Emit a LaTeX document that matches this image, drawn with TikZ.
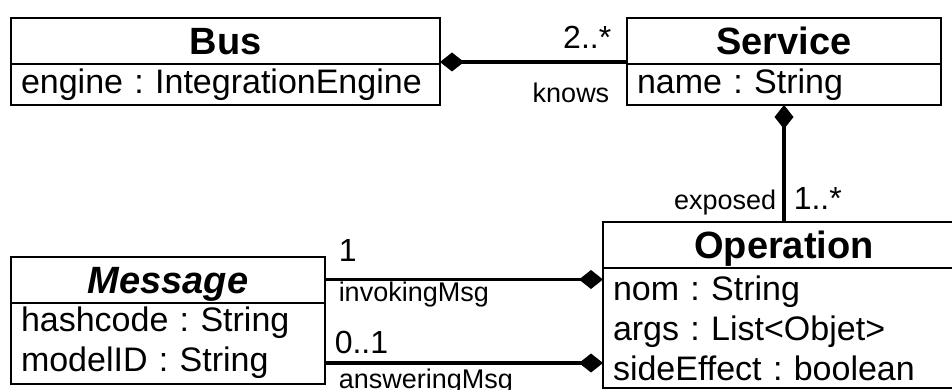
\documentclass[tikz,border=0pt]{standalone}
\usepackage{fontspec}
\setmainfont{Liberation Sans}
\usetikzlibrary{positioning,arrows.meta}
\frenchspacing

\begin{document}
\begin{tikzpicture}[x=1pt,y=-1pt,>={Diamond[length=24pt,width=19pt]},
    class head/.style={draw,line width=2pt,outer sep=0pt,inner sep=0pt,
      minimum height=46pt,text height=27pt,text depth=0pt,
      font=\fontsize{38}{44}\selectfont\bfseries},
    class body/.style={draw,line width=2pt,outer sep=0pt,inner xsep=10pt,
      inner ysep=0pt,align=left,font=\fontsize{34}{40}\selectfont},
    assoc/.style={line width=3.5pt},
    mult/.style={inner sep=0pt,font=\fontsize{32}{36}\selectfont},
    role/.style={inner sep=0pt,font=\fontsize{27}{30}\selectfont}]
  \useasboundingbox (0,0) rectangle (952,390);
  \clip (0,0) rectangle (952,390);

  % classes
  \node[class head,minimum width=429pt] (bushead) at (225.5,41) {Bus};
  \node[class body,below=0pt of bushead,text width=409pt,minimum height=41pt] (busattr)
    {engine : IntegrationEngine};
  \node[class head,minimum width=314pt] (svchead) at (784,41) {Service};
  \node[class body,below=0pt of svchead,text width=294pt,minimum height=41pt] (svcattr)
    {name : String};
  \node[class head,minimum width=362pt] (ophead) at (784,245) {Operation};
  \node[class body,below=0pt of ophead,text width=342pt,minimum height=120pt] (opattr)
    {nom : String\\ args : List<Objet>\\ sideEffect : boolean};
  \node[class head,minimum width=314pt,font=\fontsize{38}{44}\selectfont\bfseries\itshape]
    (msghead) at (168,279.5) {Message};
  \node[class body,below=0pt of msghead,text width=294pt,minimum height=81pt] (msgattr)
    {hashcode : String\\ modelID : String};

  % associations
  \coordinate (busend) at ([yshift=2pt]bushead.south east);
  \coordinate (ansend) at ([yshift=-20pt]msgattr.east);
  \draw[assoc,<-] (busend) -- (busend -| svchead.west)
    node[pos=1,mult,anchor=base east,xshift=-14pt,yshift=13pt] (mknows) {2..*}
    node[pos=1,role,anchor=base east,xshift=-16pt,yshift=-41pt] (rknows) {knows};
  \draw[assoc,<-] (svcattr.south) -- (ophead.north)
    node[pos=1,role,anchor=base east,xshift=-6pt,yshift=13pt] (rexposed) {exposed}
    node[pos=1,mult,anchor=base west,xshift=8pt,yshift=13pt] (mexposed) {1..*};
  \draw[assoc,->] (msghead.east) -- (msghead.east -| opattr.west)
    node[pos=0,mult,anchor=base west,xshift=12pt,yshift=18pt] (minv) {1}
    node[pos=0,role,anchor=base west,xshift=12pt,yshift=-22pt] (rinv) {invokingMsg};
  \draw[assoc,->] (ansend) -- (ansend -| opattr.west)
    node[pos=0,mult,anchor=base west,xshift=8pt,yshift=10pt] (mans) {0..1}
    node[pos=0,role,anchor=base west,xshift=12pt,yshift=-25pt] (rans) {answeringMsg};
\end{tikzpicture}
\end{document}
